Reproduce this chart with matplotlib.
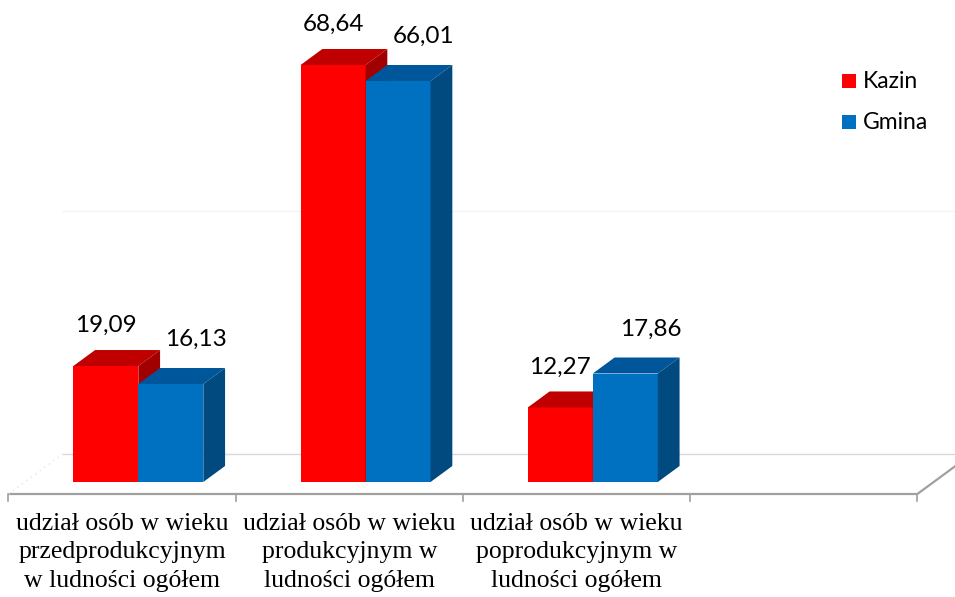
import matplotlib
matplotlib.use("Agg")
import matplotlib.pyplot as plt
from matplotlib.patches import Polygon, Rectangle

# ---- data ----
categories = [
    "udział osób w wieku\nprzedprodukcyjnym\nw ludności ogółem",
    "udział osób w wieku\nprodukcyjnym w\nludności ogółem",
    "udział osób w wieku\npoprodukcyjnym w\nludności ogółem",
]
n_slots = 4  # axis has one extra empty category slot
series_names = ["Kazin", "Gmina"]
kazin = [19.09, 68.64, 12.27]
gmina = [16.13, 66.01, 17.86]
grid_values = [0, 40]

# ---- styling / layout ----
W, H = 955, 597
PXX = 227.25   # pixels per category
PXY = 6.075    # pixels per value unit
X0 = 122       # pixel of first category centre (front floor edge)
Y0 = 494       # pixel of front floor edge
SLOPE = 1.36   # oblique depth: dx pixels per dy pixel

front_cols = ["#FF0000", "#0070C0"]
top_cols = ["#C00000", "#00569A"]
side_cols = ["#A00000", "#004A80"]
bar_w = 0.286

def depth(d):
    return SLOPE * d / PXX, d / PXY

fig = plt.figure(figsize=(W / 100, H / 100), dpi=100)
ax = fig.add_axes([0, 0, 1, 1])
ax.set_xlim(-X0 / PXX, (W - X0) / PXX)
ax.set_ylim((Y0 - H) / PXY, Y0 / PXY)
ax.axis("off")

left_edge = -0.5
right_edge = n_slots - 0.5
bdx, bdy = depth(40)

# back wall gridlines
for g in grid_values:
    col = "#D9D9D9" if g == 0 else "#F4F4F4"
    ax.plot([left_edge + bdx, right_edge + bdx + 1], [bdy + g, bdy + g],
            color=col, lw=1.0, zorder=1)
# floor edges
ax.plot([left_edge, right_edge], [0, 0], color="#A0A0A0", lw=1.6, zorder=2,
        solid_capstyle="butt")
ax.plot([right_edge, right_edge + bdx], [0, bdy], color="#A0A0A0", lw=1.6, zorder=2)
ax.plot([left_edge, left_edge + bdx], [0, bdy], color="#E6E6E6", lw=1.0,
        ls=(0, (1, 3)), zorder=2)
# tick marks
for k in range(n_slots + 1):
    ax.plot([left_edge + k, left_edge + k], [0, -7 / PXY], color="#A0A0A0",
            lw=1.2, zorder=2)

# bars
fdx, fdy = depth(12)
tdx, tdy = depth(16)
z = 5
for i in range(len(categories)):
    for s, vals in enumerate([kazin, gmina]):
        v = vals[i]
        xl = i + fdx + (s - 1) * bar_w
        xr = xl + bar_w
        yb = fdy
        yt = fdy + v
        ax.bar(xl, v, bottom=yb, width=bar_w, align="edge",
               color=front_cols[s], edgecolor="none", zorder=z)
        ax.add_patch(Polygon([(xl, yt), (xr, yt), (xr + tdx, yt + tdy), (xl + tdx, yt + tdy)],
                             closed=True, facecolor=top_cols[s], edgecolor="none", zorder=z))
        ax.add_patch(Polygon([(xr, yb), (xr + tdx, yb + tdy), (xr + tdx, yt + tdy), (xr, yt)],
                             closed=True, facecolor=side_cols[s], edgecolor="none", zorder=z))
        z += 1
        # data label
        lab = f"{v:.2f}".replace(".", ",")
        xoff = 0 if s == 0 else 25
        yoff = 34 if s == 0 else 38
        ax.annotate(lab, (xl + bar_w / 2, yt), xytext=(xoff, yoff),
                    textcoords="offset pixels", ha="center", va="baseline",
                    fontsize=17.5, family="Lato", color="#000000", zorder=50)

# category labels
for i, c in enumerate(categories):
    ax.text(i, (Y0 - 513) / PXY, c, ha="center", va="top", fontsize=18.5,
            family="Liberation Serif", linespacing=1.38, color="#000000")

# legend
for s, name in enumerate(series_names):
    ytop = 74 + s * 41
    fig.patches.append(Rectangle((842 / W, 1 - (ytop + 14) / H), 14 / W, 14 / H,
                                 transform=fig.transFigure, facecolor=front_cols[s],
                                 edgecolor="none"))
    fig.text(863 / W, 1 - (ytop + 14) / H, name, ha="left", va="baseline",
             fontsize=16.5, family="Lato", color="#000000")

fig.savefig("out.png", dpi=100)
